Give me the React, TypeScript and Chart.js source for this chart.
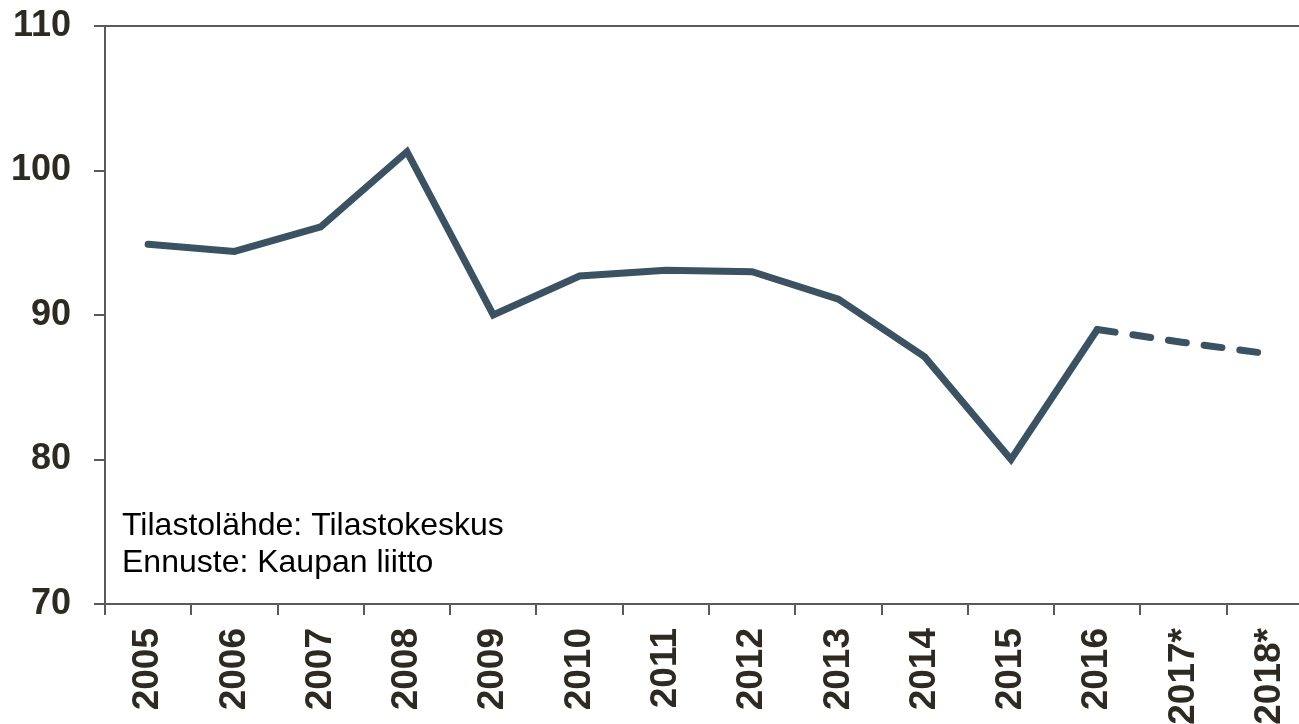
import React, { useEffect, useRef } from "react";
import Chart from "chart.js/auto";

const categories = ["2005", "2006", "2007", "2008", "2009", "2010", "2011", "2012", "2013", "2014", "2015", "2016", "2017*", "2018*"];
const values = [94.9, 94.4, 96.1, 101.3, 90.0, 92.7, 93.1, 93.0, 91.1, 87.1, 80.0, 89.0, 88.1, 87.3];
const forecastStartIndex = 11;
const yTicks = [70, 80, 90, 100, 110];
const noteLines = ["Tilastolähde: Tilastokeskus", "Ennuste: Kaupan liitto"];

const LINE_COLOR = "#3b5262";
const AXIS_COLOR = "#5a5a5a";
const TEXT_COLOR = "#2e2a22";
const FONT = '"Liberation Sans", Arial, sans-serif';

export default function App() {
  const ref = useRef<HTMLCanvasElement | null>(null);

  useEffect(() => {
    if (!ref.current) return;
    const notePlugin = {
      id: "notes",
      afterDraw(chart: any) {
        const { ctx, chartArea } = chart;
        ctx.save();
        ctx.font = "32px " + FONT;
        ctx.fillStyle = "#000";
        ctx.textAlign = "left";
        ctx.textBaseline = "alphabetic";
        ctx.fillText(noteLines[0], chartArea.left + 17, chartArea.bottom - 69);
        ctx.fillText(noteLines[1], chartArea.left + 17, chartArea.bottom - 32);
        ctx.restore();
      },
    };
    const chart = new Chart(ref.current, {
      type: "line",
      data: {
        labels: categories,
        datasets: [
          {
            data: values,
            borderColor: LINE_COLOR,
            backgroundColor: LINE_COLOR,
            borderWidth: 7,
            pointRadius: 0,
            pointHoverRadius: 0,
            tension: 0,
            borderCapStyle: "round",
            borderJoinStyle: "miter",
            fill: false,
            segment: {
              borderDash: (ctx: any) => (ctx.p0DataIndex >= forecastStartIndex ? [18, 18] : undefined),
            },
          },
        ],
      },
      options: {
        animation: false,
        responsive: false,
        maintainAspectRatio: false,
        layout: { padding: { top: 26, right: 7, bottom: 0, left: 0 } },
        plugins: { legend: { display: false }, tooltip: { enabled: false } },
        scales: {
          x: {
            type: "category",
            offset: true,
            grid: {
              offset: true,
              drawOnChartArea: false,
              color: AXIS_COLOR,
              tickColor: AXIS_COLOR,
              tickLength: 11,
              lineWidth: 2,
            },
            border: { display: true, color: AXIS_COLOR, width: 2 },
            ticks: {
              autoSkip: false,
              minRotation: 90,
              maxRotation: 90,
              padding: 13,
              color: TEXT_COLOR,
              font: { family: FONT, size: 37, weight: "bold" },
            },
            afterFit: (scale: any) => {
              scale.height = 120;
              scale.paddingLeft = 0;
              scale.paddingRight = 0;
            },
          },
          y: {
            min: 70,
            max: 110,
            afterBuildTicks: (scale: any) => {
              scale.ticks = yTicks.map((v) => ({ value: v }));
            },
            grid: {
              drawOnChartArea: true,
              color: (ctx: any) => (ctx.tick && ctx.tick.value === 110 ? AXIS_COLOR : "rgba(0,0,0,0)"),
              tickColor: AXIS_COLOR,
              tickLength: 11,
              lineWidth: 2,
            },
            border: { display: true, color: AXIS_COLOR, width: 2 },
            ticks: {
              padding: 23,
              color: TEXT_COLOR,
              font: { family: FONT, size: 36, weight: "bold" },
            },
            afterFit: (scale: any) => {
              scale.width = 105;
              scale.paddingTop = 0;
              scale.paddingBottom = 0;
            },
          },
        },
      },
      plugins: [notePlugin],
    } as any);
    return () => chart.destroy();
  }, []);

  return (
    <div style={{ position: "fixed", left: 0, top: 0, width: 1299, height: 724, overflow: "hidden", background: "#fff" }}>
      <canvas ref={ref} width={1320} height={724} style={{ display: "block", width: 1320, height: 724 }} />
    </div>
  );
}
